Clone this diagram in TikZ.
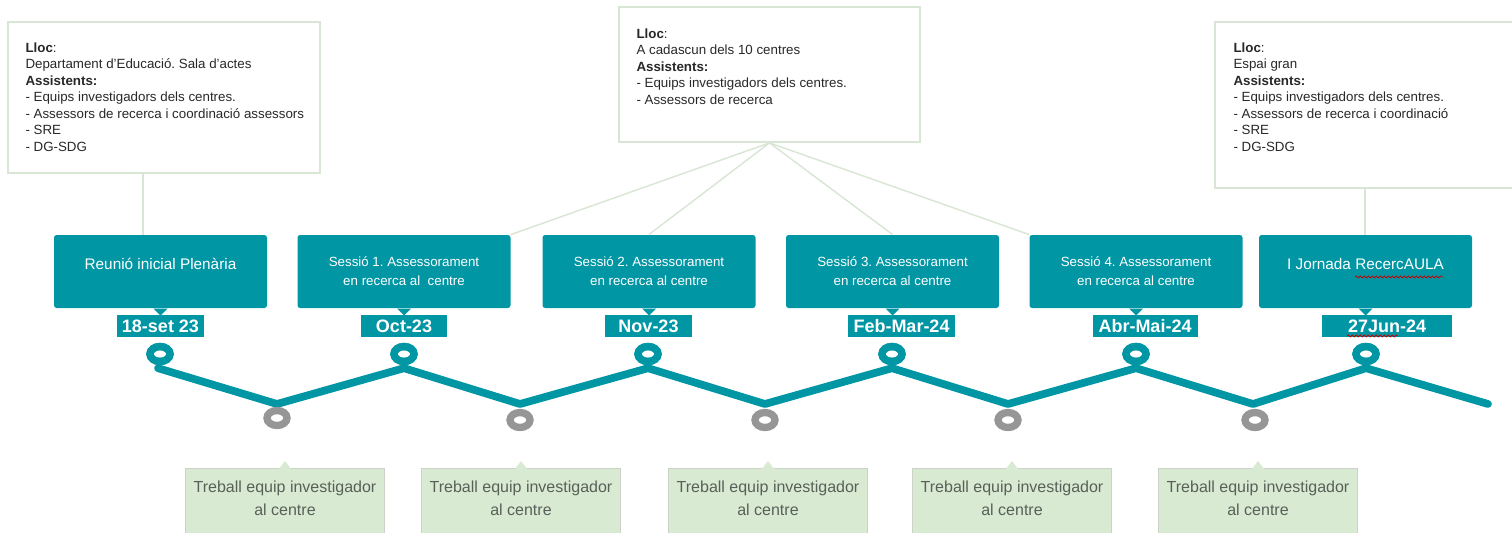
\documentclass[tikz,border=0pt]{standalone}
\usepackage{fontspec}
\setmainfont{Liberation Sans}
\frenchspacing
\usetikzlibrary{calc,shapes.geometric,decorations.pathmorphing}

\definecolor{tealc}{RGB}{0,150,164}
\definecolor{ringgray}{RGB}{150,150,150}
\definecolor{paleline}{RGB}{218,230,213}
\definecolor{greenfill}{RGB}{217,234,211}
\definecolor{greenedge}{RGB}{204,210,200}
\definecolor{greentext}{RGB}{88,96,88}
\definecolor{infotext}{RGB}{40,40,40}

\tikzset{every picture/.style={line width=0.75pt}}
\tikzset{
  infobox/.style={draw=paleline, line width=1.3pt, fill=white, inner sep=0pt},
  infotext/.style={anchor=north west, inner sep=0pt, align=left, text=infotext, font=\fontsize{10}{12.4}\selectfont},
  conn/.style={draw=paleline, line width=1.1pt},
  sessbox/.style={fill=tealc, rounded corners=2pt, minimum width=159.75pt, minimum height=54.75pt, inner sep=0pt, align=center, text=white, font=\fontsize{10}{14.25}\selectfont},
  onelinebox/.style={font=\fontsize{11.5}{14}\selectfont, text depth=11pt},
  datebox/.style={fill=tealc, minimum height=16.5pt, inner sep=0pt, text=white, font=\fontsize{13.5}{14}\selectfont\bfseries},
  topring/.style={ellipse, draw=tealc, line width=5.5pt, minimum width=15pt, minimum height=11.25pt, inner sep=0pt},
  lowring/.style={ellipse, draw=ringgray, line width=5.5pt, minimum width=15pt, minimum height=11.25pt, inner sep=0pt},
  zigzag/.style={draw=tealc, line width=5.8pt, line cap=round, line join=round},
  workbox/.style={anchor=north, fill=greenfill, draw=greenedge, line width=1.1pt, minimum width=149.25pt, minimum height=60pt, inner sep=0pt},
  worktext/.style={anchor=north, inner sep=0pt, align=center, text=greentext, font=\fontsize{12}{17.25}\selectfont},
  spellmark/.style={draw=red!80!black, line width=0.6pt, decorate, decoration={snake, amplitude=0.7pt, segment length=3pt}}
}

\begin{document}
\begin{tikzpicture}[x=0.75pt,y=0.75pt,yscale=-1,xscale=1]
\useasboundingbox (0,0) rectangle (1512,532);
\clip (0,0) rectangle (1512,532);

%Shape: Info boxes
\node[infobox, minimum width=234pt, minimum height=113.25pt] (i1) at (164,97.5) {};
\node[infobox, minimum width=225.75pt, minimum height=101.25pt] (i2) at (769.5,74.5) {};
\node[infobox, minimum width=225pt, minimum height=124.5pt] (i3) at (1365,105) {};

% Text Node
\node[infotext] (i1txt) at (25,42) {\textbf{Lloc}:\\Departament d'Educació. Sala d'actes\\\textbf{Assistents:}\\- Equips investigadors dels centres.\\- Assessors de recerca i coordinació assessors\\- SRE\\- DG-SDG};
% Text Node
\node[infotext] (i2txt) at (636,28) {\textbf{Lloc}:\\A cadascun dels 10 centres\\\textbf{Assistents:}\\- Equips investigadors dels centres.\\- Assessors de recerca};
% Text Node
\node[infotext] (i3txt) at (1233,42) {\textbf{Lloc}:\\Espai gran\\\textbf{Assistents:}\\- Equips investigadors dels centres.\\- Assessors de recerca i coordinació\\- SRE\\- DG-SDG};

%Shape: Session boxes
\node[sessbox, onelinebox] (s1) at (160.5,271.5) {Reunió inicial Plenària};
\node[sessbox] (s2) at (404,271.5) {Sessió 1. Assessorament\\en recerca al\ \ centre};
\node[sessbox] (s3) at (649,271.5) {Sessió 2. Assessorament\\en recerca al centre};
\node[sessbox] (s4) at (892.5,271.5) {Sessió 3. Assessorament\\en recerca al centre};
\node[sessbox] (s5) at (1136,271.5) {Sessió 4. Assessorament\\en recerca al centre};
\node[sessbox, onelinebox] (s6) at (1365.5,271.5) {I Jornada RecercAULA};

%Straight Lines: connectors
\coordinate (k1) at (143,173);
\draw[conn] (k1) -- (k1 |- s1.north);
\draw[conn] (i2.south) -- (s2.north east);
\draw[conn] (i2.south) -- (s3.north);
\draw[conn] (i2.south) -- (s4.north);
\draw[conn] (i2.south) -- (s5.north west);
\draw[conn] (i3.south) -- (i3.south |- s6.north);

%Shape: pointers under session boxes
\fill[tealc] ($(s1.south)+(-7,0)$) -- ($(s1.south)+(0,7)$) -- ($(s1.south)+(7,0)$) -- cycle;
\fill[tealc] ($(s2.south)+(-7,0)$) -- ($(s2.south)+(0,7)$) -- ($(s2.south)+(7,0)$) -- cycle;
\fill[tealc] ($(s3.south)+(-7,0)$) -- ($(s3.south)+(0,7)$) -- ($(s3.south)+(7,0)$) -- cycle;
\fill[tealc] ($(s4.south)+(-7,0)$) -- ($(s4.south)+(0,7)$) -- ($(s4.south)+(7,0)$) -- cycle;
\fill[tealc] ($(s5.south)+(-7,0)$) -- ($(s5.south)+(0,7)$) -- ($(s5.south)+(7,0)$) -- cycle;
\fill[tealc] ($(s6.south)+(-7,0)$) -- ($(s6.south)+(0,7)$) -- ($(s6.south)+(7,0)$) -- cycle;

% Text Node: dates
\node[datebox, minimum width=65.25pt] (d1) at (160.5,326) {18-set 23};
\node[datebox, minimum width=64.5pt] (d2) at (404,326) {Oct-23};
\node[datebox, minimum width=65.25pt] (d3) at (648.5,326) {Nov-23};
\node[datebox, minimum width=80.25pt] (d4) at (901.5,326) {Feb-Mar-24};
\node[datebox, minimum width=78.75pt] (d5) at (1145,326) {Abr-Mai-24};
\node[datebox, minimum width=97.5pt] (d6) at (1387,326) {27Jun-24};

%Spell-check marks
\draw[spellmark] (1355,277) -- (1443,277);
\draw[spellmark] (1347,336) -- (1398,336);

%Shape: rings
\node[topring] (t1) at (160,354) {};
\node[topring] (t2) at (404,354) {};
\node[topring] (t3) at (648,354) {};
\node[topring] (t4) at (892,354) {};
\node[topring] (t5) at (1136,354) {};
\node[topring] (t6) at (1366,354) {};

\coordinate (v1) at (277,404);
\coordinate (v2) at (520,404);
\coordinate (v3) at (765,404);
\coordinate (v4) at (1008,404);
\coordinate (v5) at (1253,404);
\coordinate (v6) at (1488,404);

%Straight Lines: zigzag
\draw[zigzag] ($(t1.south)+(-2,3)$) -- (v1) -- ($(t2.south)+(0,3)$) -- (v2) -- ($(t3.south)+(0,3)$) -- (v3) -- ($(t4.south)+(0,3)$) -- (v4) -- ($(t5.south)+(0,3)$) -- (v5) -- ($(t6.south)+(0,3)$) -- (v6);

\node[topring] at (t1) {};
\node[topring] at (t2) {};
\node[topring] at (t3) {};
\node[topring] at (t4) {};
\node[topring] at (t5) {};
\node[topring] at (t6) {};

\node[lowring] (g1) at (277,418) {};
\node[lowring] (g2) at (520,420) {};
\node[lowring] (g3) at (765,420) {};
\node[lowring] (g4) at (1008,420) {};
\node[lowring] (g5) at (1255,420) {};

%Shape: work boxes
\node[workbox] (w1) at (285,468) {};
\node[workbox] (w2) at (521,468) {};
\node[workbox] (w3) at (768,468) {};
\node[workbox] (w4) at (1012,468) {};
\node[workbox] (w5) at (1258,468) {};

\fill[greenfill] ($(w1.north)+(-6,0.8)$) -- ($(w1.north)+(0,-7)$) -- ($(w1.north)+(6,0.8)$) -- cycle;
\fill[greenfill] ($(w2.north)+(-6,0.8)$) -- ($(w2.north)+(0,-7)$) -- ($(w2.north)+(6,0.8)$) -- cycle;
\fill[greenfill] ($(w3.north)+(-6,0.8)$) -- ($(w3.north)+(0,-7)$) -- ($(w3.north)+(6,0.8)$) -- cycle;
\fill[greenfill] ($(w4.north)+(-6,0.8)$) -- ($(w4.north)+(0,-7)$) -- ($(w4.north)+(6,0.8)$) -- cycle;
\fill[greenfill] ($(w5.north)+(-6,0.8)$) -- ($(w5.north)+(0,-7)$) -- ($(w5.north)+(6,0.8)$) -- cycle;

% Text Node
\node[worktext] (w1txt) at (285,480) {Treball equip investigador\\al centre};
\node[worktext] (w2txt) at (521,480) {Treball equip investigador\\al centre};
\node[worktext] (w3txt) at (768,480) {Treball equip investigador\\al centre};
\node[worktext] (w4txt) at (1012,480) {Treball equip investigador\\al centre};
\node[worktext] (w5txt) at (1258,480) {Treball equip investigador\\al centre};

\end{tikzpicture}
\end{document}
